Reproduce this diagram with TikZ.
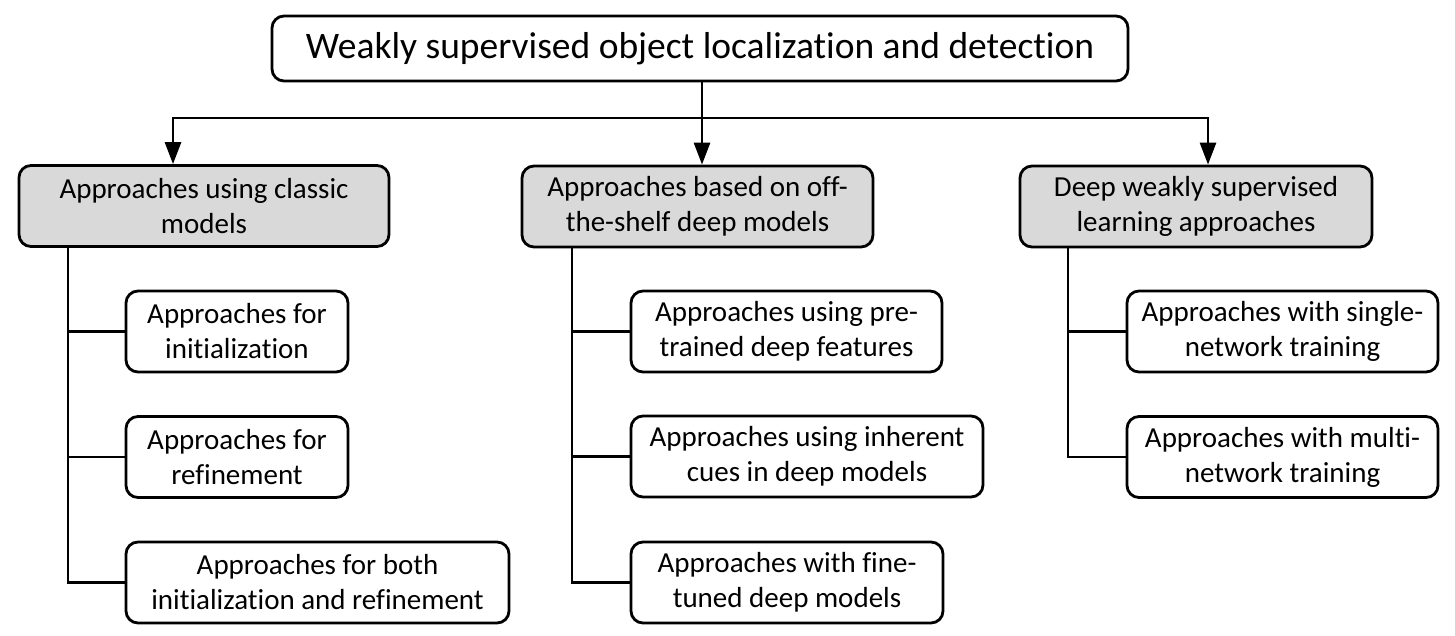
\documentclass[tikz,border=0pt]{standalone}
\usepackage{fontspec}
\setmainfont{Carlito}[Ligatures=NoCommon]
\usetikzlibrary{arrows.meta}
\definecolor{boxgray}{HTML}{D9D9D9}
\begin{document}
\begin{tikzpicture}[x=1pt,y=-1pt,
  every node/.style={font=\fontsize{29}{35}\selectfont},
  basebox/.style={draw=black, line width=2.8pt, rounded corners=12pt, inner sep=0pt, align=center, minimum height=81pt},
  topbox/.style={basebox, minimum height=65pt, font=\fontsize{37.5}{45}\selectfont},
  catbox/.style={basebox, fill=boxgray},
  leafbox/.style={basebox, fill=white},
  link/.style={line width=2.8pt},
  arrowlink/.style={link, -{Triangle[length=22pt,width=16pt]}}
]
\useasboundingbox (0,0) rectangle (1455,635);
\fill[white] (0,0) rectangle (1455,635);

\node[topbox, minimum width=856pt] (top) at (700,48.5) {\raisebox{-2pt}{Weakly supervised object localization and detection}};

\node[catbox, minimum width=370pt] (A) at (204,206) {Approaches using classic\\models};
\node[catbox, minimum width=351pt] (B) at (697.5,206.5) {Approaches based on off-\\the-shelf deep models};
\node[catbox, minimum width=352pt] (C) at (1196,206.5) {Deep weakly supervised\\learning approaches};

\node[leafbox, minimum width=222pt] (A1) at (237,331.5) {Approaches for\\initialization};
\node[leafbox, minimum width=222pt] (A2) at (237,457) {Approaches for\\refinement};
\node[leafbox, minimum width=383pt] (A3) at (317.5,582.5) {Approaches for both\\initialization and refinement};

\node[leafbox, minimum width=311pt] (B1) at (786.5,331.5) {Approaches using pre-\\trained deep features};
\node[leafbox, minimum width=352pt] (B2) at (807,456.5) {Approaches using inherent\\cues in deep models};
\node[leafbox, minimum width=312pt] (B3) at (787,582.5) {Approaches with fine-\\tuned deep models};

\node[leafbox, minimum width=311pt] (C1) at (1282.5,331.5) {Approaches with single-\\network training};
\node[leafbox, minimum width=311pt] (C2) at (1282.5,457) {Approaches with multi-\\network training};

\coordinate (hb) at (702,118);
\coordinate (hl) at (173,118);
\coordinate (hr) at (1208,118);
\draw[link] (top.south -| hb) -- (hb);
\draw[arrowlink] (hr) -- (hl) -- (hl |- A.north);
\draw[arrowlink] (hl) -- (hr) -- (hr |- C.north);
\draw[arrowlink] (hb) -- (hb |- B.north);

\coordinate (ta) at (68,0);
\coordinate (tb) at (572,0);
\coordinate (tc) at (1068,0);

\draw[link] (A.south -| ta) |- (A3.west);
\draw[link] (ta |- A1.west) -- (A1.west);
\draw[link] (ta |- A2.west) -- (A2.west);

\draw[link] (B.south -| tb) |- (B3.west);
\draw[link] (tb |- B1.west) -- (B1.west);
\draw[link] (tb |- B2.west) -- (B2.west);

\draw[link] (C.south -| tc) |- (C2.west);
\draw[link] (tc |- C1.west) -- (C1.west);
\end{tikzpicture}
\end{document}
